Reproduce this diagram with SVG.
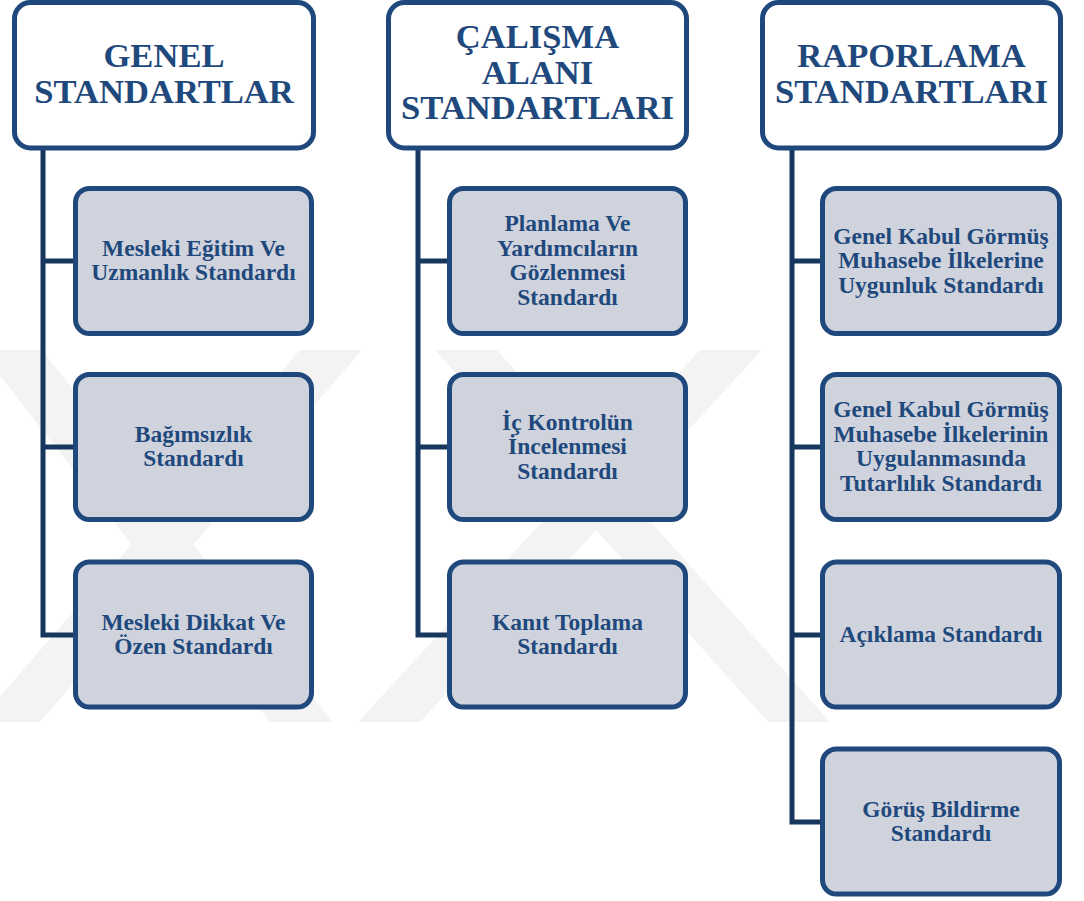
<svg xmlns="http://www.w3.org/2000/svg" width="1084" height="901" viewBox="0 0 1084 901">
  <defs>
    <!-- fine dotted texture used for the standard boxes -->
    <pattern id="dots" patternUnits="userSpaceOnUse" width="2" height="2">
      <rect width="2" height="2" fill="#c9cdd8"/>
      <rect width="1" height="1" fill="#d6d9e1"/>
      <rect x="1" y="1" width="1" height="1" fill="#d6d9e1"/>
    </pattern>
    <style>
      .head { fill: #ffffff; stroke: #1f497d; stroke-width: 5; }
      .item { fill: url(#dots); stroke: #1f497d; stroke-width: 5; }
      .ht { font-family: "Liberation Serif", "Times New Roman", serif; font-weight: bold; font-size: 34.6px; fill: #1f497d; text-anchor: middle; }
      .it { font-family: "Liberation Serif", "Times New Roman", serif; font-weight: bold; font-size: 23.5px; fill: #1f497d; text-anchor: middle; }
      .wire { fill: none; stroke: #17375e; stroke-width: 5; stroke-linejoin: miter; }
      .wm { fill: #f3f3f3; }
    </style>
  </defs>

  <rect width="1084" height="901" fill="#ffffff"/>

  <!-- faint background emblem -->
  <g id="watermark">
    <polygon class="wm" points="-20,350 42,350 332,722 270,722"/>
    <polygon class="wm" points="300,350 362,350 40,722 -22,722"/>
    <polygon class="wm" points="435,350 497,350 830,722 768,722"/>
    <polygon class="wm" points="700,350 762,350 420,722 358,722"/>
  </g>

  <!-- connectors -->
  <g id="connectors">
    <path class="wire" d="M43,150 V635 H76 M43,261 H76 M43,447 H76"/>
    <path class="wire" d="M418,150 V635 H450 M418,261 H450 M418,447 H450"/>
    <path class="wire" d="M792,150 V822 H823 M792,261 H823 M792,447 H823 M792,635 H823"/>
  </g>

  <!-- column 1 -->
  <g id="genel">
    <rect class="head" x="14.5" y="2.5" width="299" height="145.5" rx="16"/>
    <text class="ht"><tspan x="164" y="67">GENEL</tspan><tspan x="164" y="103">STANDARTLAR</tspan></text>
  </g>
  <g id="mesleki-egitim">
    <rect class="item" x="75.5" y="188.5" width="236" height="145" rx="14"/>
    <text class="it"><tspan x="193.5" y="255.75">Mesleki Eğitim Ve</tspan><tspan x="193.5" y="280.25">Uzmanlık Standardı</tspan></text>
  </g>
  <g id="bagimsizlik">
    <rect class="item" x="75.5" y="374.5" width="236" height="145" rx="14"/>
    <text class="it"><tspan x="193.5" y="441.75">Bağımsızlık</tspan><tspan x="193.5" y="466.25">Standardı</tspan></text>
  </g>
  <g id="mesleki-dikkat">
    <rect class="item" x="75.5" y="562" width="236" height="145" rx="14"/>
    <text class="it"><tspan x="193.5" y="629.75">Mesleki Dikkat Ve</tspan><tspan x="193.5" y="654.25">Özen Standardı</tspan></text>
  </g>

  <!-- column 2 -->
  <g id="calisma">
    <rect class="head" x="388.5" y="2.5" width="298" height="145.5" rx="16"/>
    <text class="ht"><tspan x="537.5" y="48">ÇALIŞMA</tspan><tspan x="537.5" y="83.5">ALANI</tspan><tspan x="537.5" y="119">STANDARTLARI</tspan></text>
  </g>
  <g id="planlama">
    <rect class="item" x="449.5" y="188.5" width="236" height="145" rx="14"/>
    <text class="it"><tspan x="567.5" y="231.25">Planlama Ve</tspan><tspan x="567.5" y="255.75">Yardımcıların</tspan><tspan x="567.5" y="280.25">Gözlenmesi</tspan><tspan x="567.5" y="304.75">Standardı</tspan></text>
  </g>
  <g id="ic-kontrol">
    <rect class="item" x="449.5" y="374.5" width="236" height="145" rx="14"/>
    <text class="it"><tspan x="567.5" y="429.5">İç Kontrolün</tspan><tspan x="567.5" y="454">İncelenmesi</tspan><tspan x="567.5" y="478.5">Standardı</tspan></text>
  </g>
  <g id="kanit">
    <rect class="item" x="449.5" y="562" width="236" height="145" rx="14"/>
    <text class="it"><tspan x="567.5" y="629.75">Kanıt Toplama</tspan><tspan x="567.5" y="654.25">Standardı</tspan></text>
  </g>

  <!-- column 3 -->
  <g id="raporlama">
    <rect class="head" x="762.5" y="2.5" width="298" height="145.5" rx="16"/>
    <text class="ht"><tspan x="911.5" y="67">RAPORLAMA</tspan><tspan x="911.5" y="103">STANDARTLARI</tspan></text>
  </g>
  <g id="uygunluk">
    <rect class="item" x="822.5" y="188.5" width="237" height="145" rx="14"/>
    <text class="it"><tspan x="941" y="243.5">Genel Kabul Görmüş</tspan><tspan x="941" y="268">Muhasebe İlkelerine</tspan><tspan x="941" y="292.5">Uygunluk Standardı</tspan></text>
  </g>
  <g id="tutarlilik">
    <rect class="item" x="822.5" y="374.5" width="237" height="145" rx="14"/>
    <text class="it"><tspan x="941" y="417.25">Genel Kabul Görmüş</tspan><tspan x="941" y="441.75">Muhasebe İlkelerinin</tspan><tspan x="941" y="466.25">Uygulanmasında</tspan><tspan x="941" y="490.75">Tutarlılık Standardı</tspan></text>
  </g>
  <g id="aciklama">
    <rect class="item" x="822.5" y="562" width="237" height="145" rx="14"/>
    <text class="it"><tspan x="941" y="642">Açıklama Standardı</tspan></text>
  </g>
  <g id="gorus">
    <rect class="item" x="822.5" y="749" width="237" height="145" rx="14"/>
    <text class="it"><tspan x="941" y="816.75">Görüş Bildirme</tspan><tspan x="941" y="841.25">Standardı</tspan></text>
  </g>
</svg>
